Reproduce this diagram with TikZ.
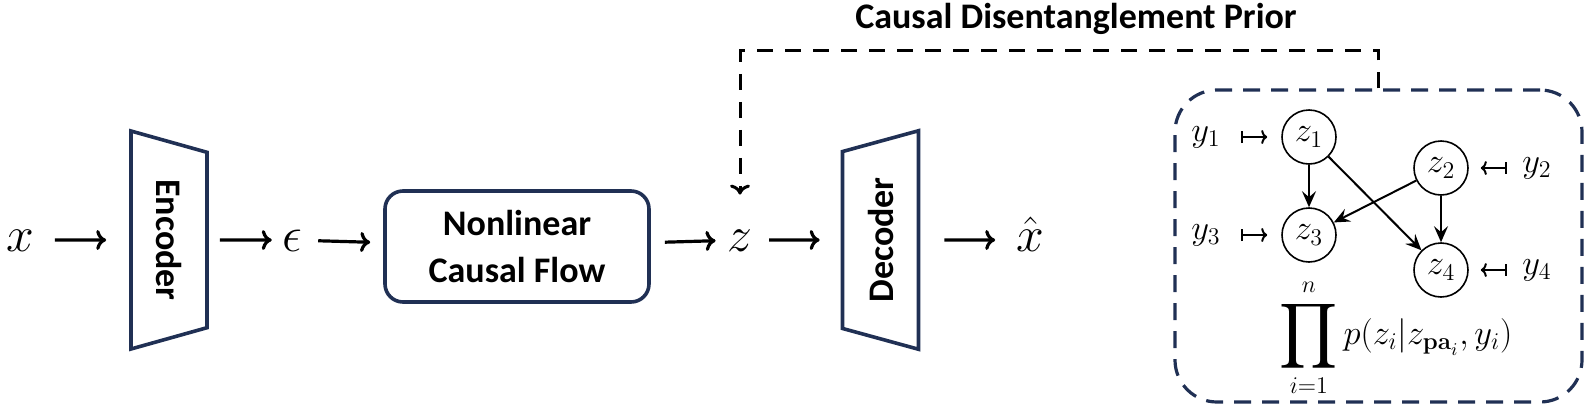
\documentclass[tikz,border=0pt]{standalone}
\usepackage{amsmath,amssymb}
\usepackage{graphicx}
\usepackage[no-math]{fontspec}
\setmainfont{Carlito}
\usetikzlibrary{arrows.meta,shapes.geometric}
\definecolor{navy}{RGB}{32,48,84}

\begin{document}
\begin{tikzpicture}[x=0.5pt,y=-0.5pt,
  flow/.style={-{To[length=5pt,width=10pt]},line width=1.6pt},
  blk/.style={draw=navy,line width=1.8pt,font=\fontsize{18}{23.5}\selectfont\bfseries},
  coder/.style={blk,trapezium,trapezium angle=60,trapezium stretches=true,minimum width=109.5pt,minimum height=38pt,inner sep=0pt},
  lat/.style={inner sep=0pt,text height=11pt,text depth=0pt,font=\fontsize{26}{30}\selectfont},
  zn/.style={circle,draw,line width=0.8pt,minimum size=27pt,inner sep=0pt,font=\fontsize{17}{20}\selectfont},
  yn/.style={inner sep=0pt,font=\fontsize{18}{21}\selectfont},
  edge/.style={-{Stealth[length=8pt,width=7pt,inset=3pt]},line width=1pt},
  maps/.style={{Bar[width=6pt]}-{To[length=3pt,width=7pt]},line width=1pt}]
\useasboundingbox (0,0) rectangle (1596,418);

% main pipeline
\node[lat] (xin) at (20,240) {$x$};
\node[coder,rotate=-90] (enc) at (169,240) {Encoder};
\node[lat] (eps) at (292,240) {$\epsilon$};
\node[blk,rounded corners=9pt,minimum width=132pt,minimum height=55.5pt,align=center] (ncf) at (517,246.5) {Nonlinear\\Causal Flow};
\node[lat] (zlat) at (740,240) {$z$};
\node[coder,rotate=90] (dec) at (880.5,240) {Decoder};
\node[lat] (xhat) at (1030,240) {$\hat{x}$};

\draw[flow,shorten <=10.3pt,shorten >=11.5pt] (xin) -- (enc);
\draw[flow,shorten <=5.5pt,shorten >=5pt] (enc) -- (eps);
\draw[flow,shorten <=8pt,shorten >=6.5pt] (eps) -- (ncf);
\draw[flow,shorten <=7pt,shorten >=5.8pt] (ncf) -- (zlat);
\draw[flow,shorten <=8.2pt,shorten >=10.5pt] (zlat) -- (dec);
\draw[flow,shorten <=12pt,shorten >=10.3pt] (dec) -- (xhat);

% prior
\node[draw=navy,line width=1.6pt,dash pattern=on 8.5pt off 5.5pt,rounded corners=21pt,minimum width=203.5pt,minimum height=156pt] (prior) at (1378.5,246) {};
\node[font=\fontsize{18}{22}\selectfont\bfseries,anchor=base] (title) at (1076,28) {Causal Disentanglement Prior};
\draw[flow,line width=1.5pt,dash pattern=on 8pt off 6pt,shorten >=17pt] (prior.north) -- ++(0,-38) -| (zlat);

\node[zn] (z1) at (1309,137) {$z_1$};
\node[zn] (z2) at (1441,168) {$z_2$};
\node[zn] (z3) at (1309,235) {$z_3$};
\node[zn] (z4) at (1441,270) {$z_4$};
\node[yn] (y1) at (1206,137) {$y_1$};
\node[yn] (y2) at (1537,168) {$y_2$};
\node[yn] (y3) at (1206,235) {$y_3$};
\node[yn] (y4) at (1537,270) {$y_4$};

\draw[maps,shorten <=10pt,shorten >=7pt] (y1) -- (z1);
\draw[maps,shorten <=10pt,shorten >=7pt] (y3) -- (z3);
\draw[maps,shorten <=7.5pt,shorten >=6pt] (y2) -- (z2);
\draw[maps,shorten <=7.5pt,shorten >=6pt] (y4) -- (z4);

\draw[edge] (z1) -- (z3);
\draw[edge] (z1) -- (z4);
\draw[edge] (z2) -- (z3);
\draw[edge] (z2) -- (z4);

\node[inner sep=0pt,font=\fontsize{17.5}{21}\selectfont] (lik) at (1396,338) {$\displaystyle\mathop{\vcenter{\hbox{\scalebox{1.3}{$\displaystyle\prod$}}}}\limits_{i=1}^{n} p(z_i|z_{\mathbf{pa}_i},y_i)$};
\end{tikzpicture}
\end{document}
